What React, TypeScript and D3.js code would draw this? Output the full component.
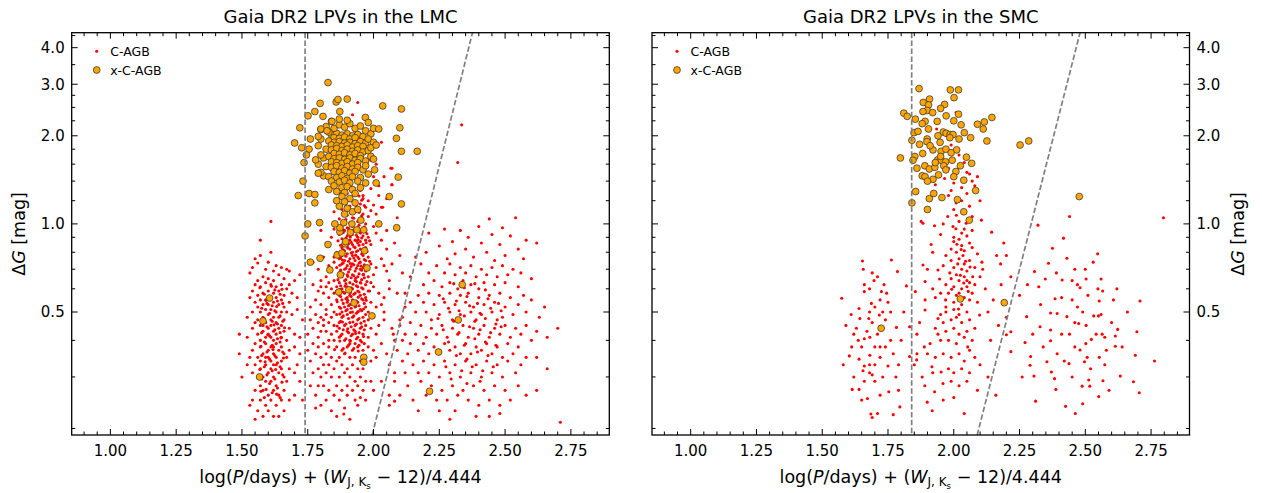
import React from "react";
import * as d3 from "d3";

// ---------------- DATA ----------------
// x = log(P/days) + (W_JKs - 12)/4.444 ; y = ΔG [mag]

const lmcRedShortP: [number, number][] = [
  [1.61,1.02],[1.57,0.88],[1.61,0.80],[1.57,0.78],[1.55,0.76],[1.54,0.71],[1.56,0.735],[1.67,0.70],[1.68,0.69],[1.72,0.67],[1.60,0.74],[1.63,0.72],[1.59,0.70],[1.62,0.69],[1.65,0.71],[1.58,0.66],[1.64,0.67],[1.60,0.65],[1.53,0.68],[1.66,0.65],[1.70,0.64],[1.56,0.64],
  [1.55,0.62],[1.57,0.61],[1.59,0.63],[1.61,0.62],[1.63,0.61],[1.65,0.62],[1.67,0.60],[1.54,0.59],[1.58,0.58],[1.60,0.59],[1.62,0.58],[1.64,0.59],[1.66,0.57],[1.69,0.58],[1.56,0.57],[1.61,0.56],[1.63,0.56],[1.59,0.55],[1.65,0.55],[1.57,0.55],[1.71,0.56],[1.53,0.56],[1.68,0.62],[1.62,0.64],
  [1.55,0.54],[1.58,0.53],[1.60,0.53],[1.62,0.54],[1.64,0.53],[1.66,0.52],[1.68,0.54],[1.56,0.52],[1.59,0.51],[1.61,0.51],[1.63,0.50],[1.65,0.50],[1.57,0.50],[1.54,0.50],[1.60,0.49],[1.62,0.48],[1.64,0.48],[1.58,0.48],[1.66,0.47],[1.69,0.49],[1.52,0.48],[1.61,0.47],[1.67,0.50],[1.71,0.51],[1.56,0.47],
  [1.55,0.46],[1.57,0.45],[1.59,0.46],[1.61,0.45],[1.63,0.46],[1.65,0.45],[1.60,0.44],[1.62,0.43],[1.64,0.44],[1.58,0.43],[1.56,0.42],[1.66,0.43],[1.68,0.44],[1.59,0.41],[1.61,0.41],[1.63,0.42],[1.54,0.44],[1.57,0.40],[1.65,0.41],[1.67,0.40],[1.62,0.40],[1.70,0.42],[1.49,0.42],[1.52,0.41],[1.60,0.42],[1.58,0.45],
  [1.55,0.39],[1.57,0.38],[1.59,0.39],[1.61,0.38],[1.63,0.39],[1.65,0.38],[1.60,0.37],[1.62,0.36],[1.64,0.37],[1.58,0.36],[1.56,0.35],[1.66,0.36],[1.68,0.37],[1.59,0.35],[1.61,0.34],[1.63,0.35],[1.54,0.37],[1.57,0.34],[1.65,0.34],[1.67,0.35],[1.70,0.38],[1.53,0.35],[1.62,0.38],[1.60,0.35],[1.72,0.36],[1.49,0.36],
  [1.55,0.33],[1.57,0.32],[1.59,0.33],[1.61,0.32],[1.63,0.33],[1.65,0.32],[1.60,0.31],[1.62,0.30],[1.64,0.31],[1.58,0.30],[1.56,0.30],[1.66,0.30],[1.68,0.32],[1.59,0.29],[1.61,0.29],[1.63,0.28],[1.54,0.31],[1.57,0.28],[1.67,0.29],[1.52,0.33],[1.70,0.31],[1.62,0.33],[1.50,0.30],[1.72,0.29],
  [1.55,0.27],[1.58,0.27],[1.60,0.26],[1.62,0.27],[1.64,0.26],[1.66,0.27],[1.57,0.25],[1.59,0.24],[1.61,0.25],[1.63,0.24],[1.65,0.25],[1.56,0.23],[1.60,0.23],[1.54,0.25],[1.68,0.25],[1.58,0.22],[1.62,0.22],[1.55,0.215],[1.66,0.23],[1.53,0.24],[1.70,0.26],[1.64,0.22],
  [1.585,0.575],[1.605,0.565],[1.625,0.595],[1.645,0.575],[1.595,0.535],[1.615,0.525],[1.635,0.545],[1.655,0.535],[1.575,0.515],[1.605,0.495],[1.625,0.505],[1.645,0.485],[1.585,0.475],[1.615,0.465],[1.635,0.455],[1.655,0.465],[1.595,0.445],[1.625,0.435],[1.645,0.425],[1.575,0.425],[1.605,0.415],[1.635,0.405],[1.585,0.395],[1.615,0.385],[1.645,0.395],[1.595,0.365],[1.625,0.355],[1.655,0.365],[1.575,0.355],[1.605,0.345],[1.635,0.335],[1.585,0.325],[1.615,0.315],[1.645,0.325],[1.595,0.305],[1.625,0.295],[1.655,0.305],[1.575,0.295],[1.605,0.285],[1.635,0.275],[1.615,0.265],[1.585,0.255],[1.645,0.255],
  [1.72,0.41],[1.73,0.47],[1.71,0.33],[1.73,0.25],
  [1.568,0.605],[1.612,0.612],[1.652,0.598],[1.592,0.548],[1.632,0.522],[1.578,0.462],[1.622,0.452],[1.662,0.442],[1.598,0.418],[1.648,0.408],[1.572,0.382],[1.618,0.372],[1.658,0.348],[1.588,0.338],[1.628,0.318],[1.568,0.318],[1.652,0.288],[1.592,0.272],[1.632,0.262],[1.572,0.268]
];

const lmcRedCore: [number, number][] = [
  [1.93,1.95],[1.95,1.85],[1.97,1.75],[1.99,1.65],[2.01,1.6],[1.96,1.55],[1.98,1.5],[2.00,1.45],[1.94,1.42],[1.97,1.38],[2.02,1.35],[1.92,1.32],[1.95,1.30],[1.99,1.32],[2.07,1.55],[2.07,1.36],[2.04,1.45],[1.90,1.40],[1.88,1.50],[1.86,1.62],[1.91,1.70],[1.89,1.80],[1.94,2.60],[1.92,2.36],[1.97,2.05],[2.03,1.9],[1.96,1.25],[2.035,1.14],
  [1.87,1.28],[1.90,1.27],[1.93,1.26],[1.96,1.22],[1.98,1.20],[1.92,1.20],[1.89,1.18],[1.95,1.17],[1.91,1.15],[1.94,1.13],[1.97,1.14],[2.00,1.16],[1.88,1.12],[1.93,1.10],[1.96,1.08],[1.90,1.07],[1.92,1.05],[1.95,1.04],[1.98,1.06],[1.87,1.04],[2.03,1.14],[2.01,1.08],[1.94,1.02],[1.91,1.01],[1.89,1.00],[1.97,1.00],[2.05,1.22],[1.85,1.10],[1.99,1.11],
  [1.895,1.035],[1.925,1.045],[1.955,1.065],[1.915,1.085],[1.945,1.095],[1.905,1.125],[1.935,1.145],[1.965,1.155],[1.925,1.185],[1.955,1.205],[1.945,1.245],[1.915,1.235],
  [1.88,0.98],[1.90,0.97],[1.92,0.98],[1.94,0.97],[1.96,0.96],[1.89,0.95],[1.91,0.94],[1.93,0.95],[1.95,0.93],[1.97,0.94],[1.87,0.92],[1.90,0.91],[1.92,0.92],[1.94,0.90],[1.96,0.91],[1.98,0.90],[1.88,0.89],[1.91,0.88],[1.93,0.88],[1.95,0.87],[1.89,0.86],[1.92,0.85],[1.94,0.86],[1.96,0.85],[1.97,0.88],[1.90,0.84],[1.93,0.83],[1.95,0.82],[1.88,0.83],[1.91,0.82],[1.97,0.83],[1.89,0.81],[1.92,0.80],[1.94,0.81],[1.86,0.80],[1.99,0.85],[2.01,0.93],[2.03,0.88],[1.84,0.90],[1.82,0.86],[2.05,0.82],[1.80,0.95],[2.00,0.98],[1.85,0.96],
  [1.86,0.79],[1.88,0.78],[1.90,0.79],[1.92,0.78],[1.94,0.77],[1.96,0.78],[1.98,0.77],[1.87,0.76],[1.89,0.75],[1.91,0.76],[1.93,0.75],[1.95,0.74],[1.97,0.75],[1.85,0.74],[1.88,0.73],[1.90,0.72],[1.92,0.73],[1.94,0.72],[1.96,0.71],[1.99,0.73],[1.86,0.71],[1.89,0.70],[1.91,0.70],[1.93,0.69],[1.95,0.70],[1.97,0.69],[1.84,0.69],[1.87,0.68],[1.90,0.67],[1.92,0.67],[1.94,0.66],[1.96,0.67],[1.98,0.66],[1.88,0.66],[1.83,0.72],[1.81,0.77],[1.79,0.70],[2.01,0.71],[2.03,0.76],[2.00,0.67],[2.05,0.69],[1.82,0.66],[1.77,0.74],[2.07,0.73],[1.85,0.77],
  [1.80,0.64],[1.83,0.63],[1.85,0.64],[1.87,0.63],[1.89,0.64],[1.91,0.63],[1.93,0.64],[1.95,0.63],[1.97,0.62],[1.99,0.63],[1.82,0.61],[1.84,0.60],[1.86,0.61],[1.88,0.60],[1.90,0.61],[1.92,0.60],[1.94,0.61],[1.96,0.60],[1.98,0.59],[2.00,0.61],[1.79,0.59],[1.81,0.58],[1.85,0.58],[1.87,0.57],[1.89,0.58],[1.91,0.57],[1.93,0.58],[1.95,0.57],[1.97,0.56],[2.02,0.58],[1.83,0.56],[1.86,0.55],[1.88,0.55],[1.90,0.54],[1.92,0.55],[1.94,0.54],[1.96,0.55],[1.99,0.54],[1.78,0.55],[1.80,0.53],[1.84,0.53],[1.87,0.52],[1.89,0.52],[1.91,0.53],[1.93,0.52],[1.95,0.51],[1.97,0.52],[1.82,0.51],[1.85,0.50],[1.88,0.50],[1.90,0.51],[1.92,0.50],[1.94,0.50],[1.98,0.50],[2.01,0.52],[2.04,0.56],[1.77,0.62],[1.76,0.52],[2.06,0.60],[1.86,0.59],[1.94,0.59],[1.90,0.56],[1.80,0.61],[2.03,0.53],
  [1.78,0.49],[1.80,0.48],[1.82,0.49],[1.84,0.48],[1.86,0.49],[1.88,0.48],[1.90,0.49],[1.92,0.48],[1.94,0.47],[1.96,0.48],[1.98,0.47],[2.00,0.48],[1.79,0.46],[1.81,0.45],[1.83,0.46],[1.85,0.45],[1.87,0.46],[1.89,0.45],[1.91,0.46],[1.93,0.45],[1.95,0.44],[1.97,0.45],[1.99,0.44],[1.77,0.44],[1.80,0.43],[1.82,0.43],[1.84,0.42],[1.86,0.43],[1.88,0.42],[1.90,0.43],[1.92,0.42],[1.94,0.41],[1.96,0.42],[1.98,0.41],[2.02,0.45],[1.79,0.41],[1.83,0.40],[1.85,0.40],[1.87,0.41],[1.89,0.40],[1.91,0.40],[1.93,0.39],[1.95,0.40],[2.01,0.42],[1.76,0.47],[2.04,0.47],[1.81,0.47],[1.87,0.44],[1.93,0.43],[1.97,0.49],[1.75,0.42],
  [1.77,0.39],[1.79,0.38],[1.81,0.39],[1.83,0.38],[1.86,0.38],[1.88,0.37],[1.90,0.38],[1.92,0.37],[1.94,0.38],[1.96,0.37],[1.98,0.38],[2.00,0.37],[1.78,0.36],[1.80,0.35],[1.82,0.36],[1.84,0.35],[1.87,0.35],[1.89,0.36],[1.91,0.35],[1.93,0.35],[1.95,0.34],[1.97,0.35],[1.99,0.34],[1.76,0.34],[1.81,0.33],[1.83,0.33],[1.85,0.32],[1.88,0.33],[1.90,0.32],[1.92,0.33],[1.94,0.32],[1.96,0.32],[1.79,0.32],[2.01,0.35],[2.03,0.39],[1.86,0.34],[1.91,0.39],[1.75,0.37],
  [1.77,0.31],[1.80,0.30],[1.82,0.31],[1.84,0.30],[1.87,0.30],[1.89,0.31],[1.91,0.30],[1.93,0.29],[1.95,0.30],[1.97,0.29],[1.79,0.28],[1.81,0.28],[1.83,0.27],[1.86,0.28],[1.88,0.27],[1.90,0.28],[1.92,0.27],[1.94,0.28],[1.96,0.27],[1.78,0.26],[1.82,0.25],[1.85,0.26],[1.87,0.25],[1.90,0.26],[1.93,0.25],[1.99,0.29],[2.00,0.27],[1.76,0.28],[1.95,0.255],
  [1.80,0.24],[1.84,0.23],[1.89,0.235],[1.94,0.24],[1.78,0.235],[1.91,0.215],[1.86,0.22],[1.97,0.25],[1.887,0.224],
  [1.875,0.985],[1.905,0.965],[1.925,0.955],[1.945,0.99],[1.965,0.975],[1.885,0.935],[1.915,0.925],[1.935,0.915],[1.955,0.945],[1.975,0.925],
  [1.865,0.875],[1.895,0.895],[1.915,0.865],[1.935,0.875],[1.955,0.895],[1.985,0.875],[1.875,0.845],[1.905,0.855],[1.925,0.835],[1.945,0.845],[1.965,0.825],
  [1.885,0.815],[1.915,0.795],[1.935,0.805],[1.955,0.79],[1.975,0.805],[1.895,0.775],[1.925,0.765],[1.945,0.76],[1.965,0.755],[1.875,0.765],
  [1.885,0.735],[1.905,0.745],[1.925,0.725],[1.945,0.735],[1.965,0.725],[1.985,0.745],[1.895,0.705],[1.915,0.715],[1.935,0.705],[1.955,0.695],[1.875,0.695],
  [1.885,0.675],[1.905,0.685],[1.925,0.665],[1.945,0.675],[1.965,0.655],[1.895,0.645],[1.915,0.655],[1.935,0.635],[1.955,0.645],[1.975,0.635],[1.865,0.645],
  [1.875,0.615],[1.895,0.625],[1.915,0.605],[1.935,0.615],[1.955,0.605],[1.885,0.585],[1.905,0.595],[1.925,0.575],[1.945,0.585],[1.965,0.575],[1.985,0.59],
  [1.875,0.565],[1.895,0.555],[1.915,0.565],[1.935,0.545],[1.955,0.555],[1.885,0.535],[1.905,0.525],[1.925,0.535],[1.945,0.525],[1.965,0.535],
  [1.875,0.515],[1.895,0.505],[1.915,0.515],[1.935,0.495],[1.955,0.505],[1.885,0.485],[1.905,0.475],[1.925,0.485],[1.945,0.475],[1.965,0.465],
  [1.875,0.465],[1.895,0.455],[1.915,0.445],[1.935,0.455],[1.955,0.445],[1.885,0.435],[1.905,0.425],[1.925,0.435],[1.945,0.425],[1.965,0.435],
  [1.875,0.415],[1.895,0.405],[1.915,0.415],[1.935,0.405],[1.955,0.395],[1.905,0.385],[1.925,0.375],[1.945,0.385],[1.885,0.375],[1.965,0.39],
  [1.882,0.958],[1.912,0.902],[1.942,0.882],[1.972,0.862],[1.902,0.828],[1.932,0.782],[1.962,0.798],[1.882,0.752],[1.912,0.732],[1.952,0.718],[1.872,0.722],[1.902,0.662],[1.932,0.652],[1.962,0.672],[1.892,0.612],[1.922,0.622],[1.952,0.628],[1.872,0.598],[1.912,0.582],[1.942,0.562],[1.972,0.548],[1.862,0.542],[1.902,0.548],[1.932,0.522],[1.962,0.512],[1.872,0.492],[1.912,0.498],[1.942,0.502],[1.882,0.462],[1.922,0.462],[1.952,0.458],[1.862,0.448],[1.902,0.438],[1.932,0.422],[1.962,0.412],[1.872,0.398],[1.912,0.398],[1.942,0.368],[1.892,0.362],[1.852,0.372],
  [2.05,0.95],[2.08,0.86],[2.10,0.78],[2.06,0.64],[2.09,0.58],[2.04,0.50],[2.07,0.44],[2.11,0.40],[2.05,0.36],[2.08,0.31],[2.03,0.29],[2.06,0.26],[2.10,0.47],[2.12,0.52],[2.11,0.68],[2.04,0.72],[2.09,1.05],[2.02,1.25],[2.075,0.42],[2.08,0.248],[2.066,1.55],[2.07,1.36]
];

const lmcRedLongP: [number, number][] = [
  [2.44,1.04],[2.54,1.05],[2.40,0.98],[2.49,0.97],[2.33,0.95],[2.27,0.96],[2.21,0.93],[2.36,0.90],[2.45,0.92],[2.52,0.91],[2.58,0.88],[2.30,0.87],[2.41,0.86],[2.48,0.85],[2.25,0.84],[2.35,0.82],[2.55,0.82],[2.20,0.80],[2.31,0.79],[2.43,0.80],[2.50,0.78],[2.38,0.77],[2.28,0.76],[2.46,0.75],[2.57,0.76],[2.16,0.77],[2.62,0.86],
  [2.18,0.73],[2.24,0.72],[2.29,0.73],[2.33,0.71],[2.37,0.72],[2.41,0.70],[2.45,0.71],[2.49,0.72],[2.53,0.70],[2.21,0.68],[2.27,0.68],[2.31,0.67],[2.35,0.68],[2.39,0.66],[2.43,0.67],[2.47,0.66],[2.51,0.67],[2.56,0.68],[2.14,0.66],[2.23,0.64],[2.29,0.63],[2.34,0.64],[2.37,0.62],[2.42,0.63],[2.46,0.62],[2.50,0.63],[2.55,0.61],[2.19,0.62],[2.26,0.61],[2.60,0.65],[2.40,0.60],[2.32,0.60],
  [2.12,0.58],[2.17,0.57],[2.21,0.58],[2.25,0.57],[2.29,0.58],[2.33,0.57],[2.36,0.58],[2.40,0.56],[2.44,0.57],[2.48,0.58],[2.52,0.56],[2.57,0.57],[2.14,0.54],[2.19,0.54],[2.23,0.53],[2.27,0.54],[2.31,0.53],[2.35,0.54],[2.38,0.52],[2.42,0.53],[2.46,0.54],[2.50,0.52],[2.55,0.53],[2.60,0.55],[2.16,0.50],[2.20,0.50],[2.25,0.49],[2.29,0.50],[2.33,0.49],[2.37,0.50],[2.41,0.49],[2.45,0.50],[2.49,0.48],[2.53,0.49],[2.58,0.50],[2.11,0.48],[2.22,0.47],[2.30,0.47],[2.39,0.47],[2.47,0.47],[2.63,0.48],[2.65,0.52],
  [2.10,0.45],[2.14,0.46],[2.18,0.45],[2.22,0.44],[2.26,0.45],[2.30,0.44],[2.34,0.45],[2.38,0.44],[2.42,0.45],[2.46,0.44],[2.50,0.45],[2.54,0.44],[2.58,0.45],[2.12,0.42],[2.16,0.42],[2.20,0.41],[2.24,0.42],[2.28,0.41],[2.32,0.42],[2.36,0.41],[2.40,0.42],[2.44,0.41],[2.48,0.42],[2.52,0.41],[2.56,0.42],[2.62,0.43],[2.08,0.40],[2.14,0.39],[2.19,0.39],[2.23,0.38],[2.27,0.39],[2.31,0.38],[2.35,0.39],[2.39,0.38],[2.43,0.39],[2.47,0.38],[2.51,0.39],[2.55,0.38],[2.60,0.40],[2.70,0.44],[2.66,0.41],
  [2.09,0.37],[2.13,0.36],[2.17,0.37],[2.21,0.36],[2.25,0.36],[2.29,0.37],[2.33,0.36],[2.37,0.36],[2.41,0.37],[2.45,0.36],[2.49,0.35],[2.53,0.36],[2.58,0.35],[2.11,0.34],[2.15,0.33],[2.19,0.34],[2.23,0.33],[2.27,0.34],[2.31,0.33],[2.35,0.34],[2.39,0.33],[2.43,0.34],[2.47,0.33],[2.51,0.34],[2.56,0.33],[2.62,0.35],[2.06,0.33],[2.12,0.31],[2.17,0.31],[2.21,0.31],[2.25,0.30],[2.29,0.31],[2.33,0.30],[2.37,0.31],[2.41,0.30],[2.45,0.31],[2.49,0.30],[2.54,0.31],[2.66,0.32],
  [2.08,0.29],[2.13,0.28],[2.18,0.29],[2.22,0.28],[2.26,0.27],[2.30,0.28],[2.34,0.27],[2.38,0.28],[2.42,0.27],[2.46,0.28],[2.50,0.27],[2.55,0.28],[2.10,0.26],[2.15,0.25],[2.20,0.26],[2.24,0.25],[2.28,0.25],[2.32,0.26],[2.36,0.25],[2.40,0.24],[2.44,0.25],[2.48,0.24],[2.52,0.25],[2.58,0.26],[2.17,0.23],[2.25,0.23],[2.31,0.23],[2.39,0.22],[2.44,0.22],[2.29,0.215],[2.62,0.27],[2.71,0.21],[2.06,0.24],[2.48,0.225],
  [2.265,0.555],[2.315,0.545],[2.355,0.565],[2.395,0.535],[2.435,0.555],[2.475,0.535],[2.285,0.515],[2.325,0.505],[2.365,0.525],[2.405,0.495],[2.445,0.515],[2.485,0.505],[2.245,0.475],[2.305,0.465],[2.345,0.485],[2.385,0.465],[2.425,0.475],[2.465,0.455],[2.265,0.435],[2.325,0.425],[2.365,0.445],[2.405,0.435],[2.445,0.425],[2.485,0.445],[2.285,0.395],[2.345,0.385],[2.385,0.405],[2.425,0.395],[2.465,0.385],[2.255,0.365],[2.315,0.355],[2.355,0.345],[2.395,0.365],[2.435,0.355],[2.275,0.325],[2.335,0.315],[2.375,0.325],[2.415,0.315],[2.455,0.325],[2.295,0.295],[2.355,0.285],[2.405,0.29],[2.345,0.605],[2.385,0.625],[2.425,0.595],[2.305,0.625],
  [2.335,2.18],[2.32,1.62]
];

const lmcOrange: [number, number][] = [
  [1.84,2.02],[1.86,2.04],[1.88,2.01],[1.90,2.03],[1.92,2.0],[1.94,2.02],[1.96,1.99],[1.85,1.97],[1.87,1.96],[1.89,1.98],[1.91,1.95],[1.93,1.97],
  [1.83,1.92],[1.85,1.90],[1.87,1.91],[1.89,1.89],[1.91,1.90],[1.93,1.88],[1.95,1.91],[1.97,1.89],[1.84,1.86],[1.86,1.85],[1.88,1.84],[1.90,1.86],[1.92,1.83],[1.94,1.85],[1.96,1.84],
  [1.82,1.80],[1.84,1.79],[1.86,1.81],[1.88,1.78],[1.90,1.80],[1.92,1.77],[1.94,1.79],[1.96,1.76],[1.98,1.78],[1.85,1.74],[1.87,1.73],[1.89,1.75],[1.91,1.72],[1.93,1.74],[1.95,1.71],
  [1.81,1.68],[1.83,1.70],[1.85,1.67],[1.87,1.68],[1.89,1.66],[1.91,1.68],[1.93,1.65],[1.95,1.67],[1.97,1.64],[1.84,1.63],[1.86,1.62],[1.88,1.61],[1.90,1.63],[1.92,1.60],[1.94,1.62],
  [1.82,1.57],[1.84,1.56],[1.86,1.58],[1.88,1.55],[1.90,1.57],[1.92,1.54],[1.94,1.56],[1.96,1.53],[1.85,1.51],[1.87,1.50],[1.89,1.52],[1.91,1.49],[1.93,1.51],
  [1.81,1.46],[1.83,1.45],[1.86,1.44],[1.88,1.46],[1.90,1.43],[1.92,1.45],[1.95,1.44],[1.84,1.40],[1.87,1.39],[1.89,1.41],[1.91,1.38],[1.94,1.40],
  [1.85,1.35],[1.88,1.33],[1.90,1.34],[1.92,1.31],[1.86,1.29],[1.89,1.28],[1.93,1.27],[1.83,1.31],[1.95,1.33],
  [1.88,1.24],[1.91,1.22],[1.89,1.19],[1.93,1.18],[1.87,1.15],[1.90,1.13],[1.92,1.10],[1.89,1.08],[1.94,1.12],[1.86,1.20],
  [1.80,2.10],[1.82,2.15],[1.85,2.12],[1.87,2.18],[1.89,2.14],[1.91,2.20],[1.93,2.12],[1.95,2.16],[1.97,2.08],[1.84,2.24],[1.87,2.28],[1.90,2.26],[1.83,2.06],[1.99,2.03],[1.98,1.95],[2.00,1.90],[1.99,1.70],[1.99,1.82],[1.80,1.95],[1.79,1.85],[1.80,1.72],[1.79,1.60],[1.80,1.50],[1.97,1.58],[1.98,1.48],[1.97,1.38],
  [1.827,3.04],[1.797,2.58],[1.858,2.61],[1.865,2.66],[1.90,2.67],[2.035,2.53],[2.106,2.47],[1.751,2.34],[1.777,2.42],[1.808,2.33],[1.872,2.42],[1.969,2.31],[1.98,2.22],[1.72,2.13],[1.842,2.24],[1.80,2.11],[1.823,2.08],[2.00,2.12],[2.02,2.11],[2.10,2.13],[1.79,1.99],[1.76,1.95],[1.70,1.89],[1.727,1.82],[1.755,1.80],[2.087,1.96],[2.106,1.77],[2.166,1.77],[2.01,1.86],[1.745,1.72],[1.736,1.62],[1.78,1.655],[2.00,1.665],[2.004,1.53],[1.79,1.49],[1.732,1.40],[1.714,1.25],[1.755,1.27],[1.777,1.26],[2.01,1.38],[2.094,1.445],[2.06,1.24],[2.106,1.17],[1.777,1.18],[1.75,1.0],[1.795,1.01],[1.74,0.91],[2.088,0.97],[2.02,1.0],[1.827,0.85],[1.76,0.74],[1.797,0.763],
  [1.834,0.696],[1.868,0.585],[1.906,0.595],[1.926,0.537],[1.874,0.67],[1.994,0.485],[1.963,0.35],[1.963,0.337],[1.975,0.707],[1.966,0.81],[1.862,0.783],[1.88,0.795],[1.892,0.855],[1.894,0.87],[1.872,0.94],[1.872,0.97],[1.853,1.0],[1.887,1.01],[1.918,1.0],[1.952,1.03],[1.963,0.954],[1.937,0.954],[1.912,0.935],
  [1.605,0.558],[1.58,0.466],[1.567,0.30],[2.337,0.62],[2.322,0.47],[2.247,0.365],[2.213,0.268]
];

const smcRedShortP: [number, number][] = [
  [1.574,0.557],[1.653,0.747],[1.656,0.70],[1.697,0.64],[1.71,0.66],[1.763,0.753],[1.786,0.687],[1.82,0.614],[1.66,0.587],[1.68,0.60],[1.725,0.587],[1.745,0.58],[1.687,0.535],[1.70,0.52],[1.717,0.488],[1.73,0.50],[1.64,0.514],[1.76,0.50],[1.677,0.475],[1.643,0.475],[1.69,0.46],[1.74,0.47],[1.832,0.445],[1.782,0.443],[1.681,0.41],[1.637,0.40],[1.66,0.405],[1.70,0.38],[1.72,0.38],[1.612,0.38],[1.74,0.38],[1.76,0.40],[1.681,0.356],[1.603,0.354],[1.64,0.345],[1.66,0.327],[1.68,0.33],[1.70,0.33],[1.75,0.327],[1.68,0.31],[1.655,0.315],[1.69,0.305],[1.79,0.33],[1.832,0.352],[1.86,0.36],[1.85,0.33],[1.614,0.272],[1.64,0.272],[1.753,0.267],[1.79,0.27],[1.672,0.253],[1.795,0.237],[1.685,0.224],[1.71,0.225],[1.69,0.218],[1.77,0.223],[1.63,0.44],[1.61,0.49],[1.66,0.62],[1.69,0.68],[1.735,0.62],[1.72,0.55],[1.75,0.54],[1.67,0.43],[1.71,0.42],[1.73,0.44],[1.65,0.38],[1.72,0.35],[1.77,0.36],[1.70,0.29],[1.73,0.30],[1.62,0.30],[1.66,0.29],[1.58,0.33],[1.65,0.25],[1.72,0.26],[1.62,0.42],[1.68,0.50],[1.59,0.45],[1.80,0.40],[1.78,0.30],[1.81,0.50]
];

const smcRedCore: [number, number][] = [
  [2.009,2.40],[1.935,2.11],[1.99,1.86],[2.02,1.72],[2.04,1.62],[1.98,1.55],[2.05,1.50],[2.09,1.45],[2.07,1.40],[2.06,1.48],[1.93,1.36],[1.965,1.43],[2.00,1.38],[2.03,1.33],[2.08,1.35],[2.05,1.27],[1.99,1.30],[2.009,1.18],[2.03,1.20],[2.06,1.15],[2.04,1.10],[2.00,1.12],[1.977,1.06],[2.01,1.07],[2.047,1.005],[1.997,0.98],[2.02,1.02],[2.105,1.03],[1.876,1.02],[1.883,1.005],[1.927,0.985],[1.96,1.00],[2.07,1.06],[1.98,1.25],[2.10,1.20],
  [2.03,0.93],[2.02,0.886],[2.05,0.91],[2.07,0.95],[2.03,0.843],[2.06,0.86],[1.914,0.85],[2.00,0.87],[1.99,0.82],[2.01,0.80],[2.04,0.81],[2.07,0.83],[2.09,0.79],[2.107,0.74],[2.04,0.73],[2.06,0.75],[2.02,0.76],[1.99,0.75],[1.97,0.78],[2.00,0.71],[2.03,0.70],[2.05,0.69],[2.08,0.71],[1.94,0.696],[1.883,0.724],[1.90,0.70],[1.96,0.72],[2.01,0.67],[2.04,0.66],[2.072,0.66],[2.06,0.63],[2.02,0.64],[1.99,0.65],[1.97,0.62],[2.00,0.61],[2.03,0.60],[2.05,0.61],[2.08,0.62],[1.891,0.635],[1.946,0.648],[1.854,0.587],[1.92,0.60],[1.95,0.58],[1.98,0.58],[2.01,0.57],[2.04,0.56],[2.07,0.58],[1.969,0.55],[1.891,0.55],[1.93,0.56],[2.00,0.54],[2.03,0.53],[2.06,0.55],[2.09,0.54],[2.02,0.58],[2.05,0.64],[1.985,0.68],[2.015,0.73],[2.035,0.78],[2.0,0.90],[2.04,0.96],[1.95,0.92],[1.92,0.80],[2.10,0.66],[2.12,0.60],[2.11,0.70],
  [2.012,0.852],[2.045,0.745],[2.025,0.668],[2.055,0.588],[2.018,0.512],[2.038,0.628],[1.992,0.598],[2.062,0.712],[2.028,0.818],[2.008,0.962],
  [1.891,0.508],[1.94,0.475],[1.97,0.50],[2.00,0.51],[2.02,0.49],[2.05,0.50],[2.098,0.488],[1.96,0.46],[1.99,0.47],[2.03,0.46],[2.06,0.47],[1.93,0.44],[1.94,0.42],[1.97,0.43],[2.00,0.44],[2.02,0.42],[2.05,0.43],[2.08,0.44],[1.95,0.40],[1.98,0.40],[2.01,0.39],[2.053,0.38],[2.07,0.40],[1.888,0.38],[1.91,0.39],[1.859,0.343],[1.90,0.36],[1.93,0.35],[1.96,0.36],[1.99,0.35],[2.02,0.36],[2.04,0.34],[2.08,0.35],[1.917,0.325],[1.952,0.312],[1.98,0.32],[2.00,0.31],[2.03,0.32],[2.06,0.31],[2.10,0.33],[1.959,0.285],[1.99,0.29],[2.02,0.28],[2.05,0.29],[1.927,0.267],[1.89,0.28],[1.899,0.246],[1.96,0.25],[2.00,0.255],[2.04,0.225],[1.918,0.23],[1.88,0.30],[2.09,0.27],[1.97,0.52],[2.01,0.48],[1.95,0.49],[2.04,0.41],[1.92,0.31],[2.06,0.37],[1.87,0.46],[1.86,0.42],
  [2.144,0.937],[2.19,0.86],[2.163,0.78],[2.178,0.73],[2.20,0.78],[2.217,0.66],[2.20,0.48],[2.217,0.366],[2.20,0.418],[2.15,0.55],[2.17,0.45],[2.14,0.40],[2.13,0.30],[2.16,0.26],[2.18,0.62],[2.13,0.50]
];

const smcRedLongP: [number, number][] = [
  [2.547,0.79],[2.503,0.648],[2.56,0.648],[2.48,0.605],[2.548,0.60],[2.566,0.59],[2.607,0.55],[2.708,0.545],[2.553,0.545],[2.532,0.485],[2.55,0.485],[2.56,0.49],[2.475,0.457],[2.503,0.45],[2.541,0.42],[2.564,0.42],[2.574,0.41],[2.614,0.414],[2.623,0.436],[2.696,0.428],[2.523,0.403],[2.502,0.39],[2.614,0.382],[2.48,0.371],[2.497,0.338],[2.507,0.35],[2.553,0.35],[2.574,0.33],[2.69,0.356],[2.763,0.34],[2.633,0.302],[2.513,0.293],[2.567,0.291],[2.488,0.279],[2.517,0.279],[2.683,0.289],[2.705,0.265],[2.551,0.257],[2.49,0.243],[2.797,1.05],
  [2.44,1.06],[2.32,0.99],[2.417,0.894],[2.375,0.826],[2.36,0.734],[2.43,0.763],[2.307,0.687],[2.348,0.648],[2.323,0.61],[2.412,0.643],[2.385,0.555],[2.368,0.496],[2.393,0.494],[2.43,0.482],[2.277,0.482],[2.328,0.445],[2.368,0.434],[2.217,0.428],[2.271,0.393],[2.368,0.399],[2.393,0.36],[2.292,0.352],[2.354,0.338],[2.29,0.329],[2.371,0.312],[2.438,0.333],[2.383,0.296],[2.305,0.302],[2.388,0.272],[2.311,0.248],[2.425,0.238],[2.462,0.225],
  [2.46,0.70],[2.45,0.55],[2.47,0.52],[2.44,0.42],[2.46,0.38],[2.45,0.30],[2.47,0.62],[2.49,0.50],[2.46,0.46],[2.45,0.64],
  [2.25,0.57],[2.26,0.30],[2.33,0.53],[2.34,0.38],[2.41,0.56],[2.41,0.42],[2.30,0.42],[2.28,0.62],[2.39,0.68],[2.42,0.34],[2.51,0.57],[2.52,0.32],[2.58,0.37],[2.60,0.46],[2.64,0.38],[2.66,0.50],[2.59,0.27],[2.50,0.70],[2.53,0.74],[2.62,0.60]
];

const smcOrange: [number, number][] = [
  [1.868,2.90],[1.987,2.87],[2.018,2.87],[2.001,2.70],[1.884,2.60],[1.908,2.67],[1.904,2.55],[1.899,2.44],[1.883,2.42],[1.965,2.56],[1.81,2.39],[1.823,2.33],[1.854,2.28],[1.891,2.24],[1.937,2.24],[1.971,2.34],[2.018,2.37],[2.028,2.18],[2.145,2.31],[2.116,2.23],[2.09,2.19],[2.112,2.11],[2.126,1.92],[2.064,1.97],[2.252,1.86],[2.285,1.92],
  [1.849,2.05],[1.864,2.07],[1.904,2.11],[1.96,2.06],[1.971,2.04],[1.986,2.02],[1.997,2.02],[1.985,1.97],[1.899,1.95],[1.898,1.91],[1.841,1.93],[1.948,1.90],[1.882,1.74],[1.921,1.79],[1.952,1.77],[2.011,1.79],[2.048,1.69],[1.852,1.70],[1.797,1.68],[1.845,1.65],[1.939,1.655],[1.952,1.65],[1.969,1.63],[1.994,1.65],[2.068,1.61],[1.89,1.58],[1.907,1.54],[1.928,1.56],[1.962,1.58],[1.97,1.53],[2.008,1.51],[2.025,1.58],
  [1.88,1.46],[1.891,1.45],[1.921,1.42],[1.942,1.47],[2.038,1.41],[1.855,1.29],[1.907,1.22],[1.924,1.27],[1.955,1.23],[2.014,1.21],[2.083,1.30],[1.841,1.18],[1.90,1.12],[2.038,1.10],[2.059,1.03],
  [2.025,0.554],[2.192,0.538],[1.724,0.44],[2.477,1.24],
  [1.93,1.62],[1.95,1.70],[1.91,1.85],[1.97,1.80],[1.99,1.75],[2.02,1.95],[1.88,2.20],[1.86,1.55],[1.92,2.40],[2.00,2.25],[1.95,2.48],[2.04,2.05],[1.90,1.40],[2.00,1.45],[1.87,1.87],[1.94,2.00]
];

// dashed dividing lines [x, ΔG] end points
const lmcVertical = 1.74;
const lmcDiagonal: [number, number][] = [[1.995, 0.19], [2.376, 4.5]];
const smcVertical = 1.84;
const smcDiagonal: [number, number][] = [[2.089, 0.19], [2.48, 4.5]];

const xMajorTicks = [1.0, 1.25, 1.5, 1.75, 2.0, 2.25, 2.5, 2.75];
const yMajorTicks = [0.5, 1.0, 2.0, 3.0, 4.0];
const yMinorTicks = [0.2, 0.3, 0.4, 0.6, 0.7, 0.8, 0.9, 1.2, 1.4, 1.6, 1.8, 2.25, 2.5, 2.75, 3.5, 4.4];

const titles = ["Gaia DR2 LPVs in the LMC", "Gaia DR2 LPVs in the SMC"];
const legendLabels = ["C-AGB", "x-C-AGB"];

// ---------------- LAYOUT ----------------
const W = 1262;
const H = 493;
const FONT = "DejaVu Sans, sans-serif";
const TOP = 32.7;
const BOTTOM = 435;
const X_DOMAIN: [number, number] = [0.853, 2.896];
const Y_DOMAIN: [number, number] = [0.19, 4.5];
const RED = "#ff0000";
const ORANGE = "#ffa500";
const RED_R = 1.55;
const OR_R = 3.4;
const OR_EDGE = "#333333";

const xMinorTicks = d3
  .range(18, 58)
  .map((i) => i * 0.05)
  .filter((v) => Math.abs(v * 4 - Math.round(v * 4)) > 1e-6);

type PanelProps = {
  id: string;
  x0: number;
  x1: number;
  title: string;
  red: [number, number][];
  orange: [number, number][];
  vline: number;
  diag: [number, number][];
  side: "left" | "right";
};

function Panel({ id, x0, x1, title, red, orange, vline, diag, side }: PanelProps) {
  const x = d3.scaleLinear().domain(X_DOMAIN).range([x0, x1]);
  const y = d3.scaleLog().domain(Y_DOMAIN).range([BOTTOM, TOP]);
  const line = d3
    .line<[number, number]>()
    .x((d) => x(d[0]))
    .y((d) => y(d[1]));
  const fx = d3.format(".2f");
  const fy = d3.format(".1f");
  const cx = (x0 + x1) / 2;
  const MAJ = 6;
  const MIN = 3.5;
  const tickStyle = { stroke: "#000", strokeWidth: 1 };

  return (
    <g>
      <defs>
        <clipPath id={id}>
          <rect x={x0} y={TOP} width={x1 - x0} height={BOTTOM - TOP} />
        </clipPath>
      </defs>
      <g clipPath={`url(#${id})`}>
        {red.map((d, i) => (
          <circle key={"r" + i} cx={x(d[0])} cy={y(d[1])} r={RED_R} fill={RED} />
        ))}
        {orange.map((d, i) => (
          <circle
            key={"o" + i}
            cx={x(d[0])}
            cy={y(d[1])}
            r={OR_R}
            fill={ORANGE}
            stroke={OR_EDGE}
            strokeWidth={0.75}
          />
        ))}
        <line
          x1={x(vline)}
          x2={x(vline)}
          y1={TOP}
          y2={BOTTOM}
          stroke="#808080"
          strokeWidth={1.7}
          strokeDasharray="5.5,2.4"
        />
        <path
          d={line(diag) || ""}
          fill="none"
          stroke="#808080"
          strokeWidth={1.7}
          strokeDasharray="5.5,2.4"
        />
      </g>

      {/* ticks */}
      {xMajorTicks.map((t) => (
        <g key={"xm" + t}>
          <line x1={x(t)} x2={x(t)} y1={BOTTOM} y2={BOTTOM - MAJ} {...tickStyle} />
          <line x1={x(t)} x2={x(t)} y1={TOP} y2={TOP + MAJ} {...tickStyle} />
          <text
            x={x(t)}
            y={456}
            textAnchor="middle"
            fontFamily={FONT}
            fontSize={15}
            fill="#000"
          >
            {fx(t)}
          </text>
        </g>
      ))}
      {xMinorTicks.map((t) => (
        <g key={"xn" + t}>
          <line x1={x(t)} x2={x(t)} y1={BOTTOM} y2={BOTTOM - MIN} {...tickStyle} />
          <line x1={x(t)} x2={x(t)} y1={TOP} y2={TOP + MIN} {...tickStyle} />
        </g>
      ))}
      {yMajorTicks.map((t) => (
        <g key={"ym" + t}>
          <line x1={x0} x2={x0 + MAJ} y1={y(t)} y2={y(t)} {...tickStyle} />
          <line x1={x1} x2={x1 - MAJ} y1={y(t)} y2={y(t)} {...tickStyle} />
          <text
            x={side === "left" ? x0 - 7 : x1 + 7}
            y={y(t) + 5.4}
            textAnchor={side === "left" ? "end" : "start"}
            fontFamily={FONT}
            fontSize={15}
            fill="#000"
          >
            {fy(t)}
          </text>
        </g>
      ))}
      {yMinorTicks.map((t) => (
        <g key={"yn" + t}>
          <line x1={x0} x2={x0 + MIN} y1={y(t)} y2={y(t)} {...tickStyle} />
          <line x1={x1} x2={x1 - MIN} y1={y(t)} y2={y(t)} {...tickStyle} />
        </g>
      ))}

      {/* frame */}
      <rect
        x={x0}
        y={TOP}
        width={x1 - x0}
        height={BOTTOM - TOP}
        fill="none"
        stroke="#000"
        strokeWidth={1.3}
      />

      {/* title */}
      <text x={cx} y={23.3} textAnchor="middle" fontFamily={FONT} fontSize={18} fill="#000">
        {title}
      </text>

      {/* legend */}
      <circle cx={x0 + 25} cy={51.3} r={RED_R} fill={RED} />
      <circle cx={x0 + 25} cy={70} r={OR_R} fill={ORANGE} stroke={OR_EDGE} strokeWidth={0.75} />
      <text x={x0 + 38.5} y={55.8} fontFamily={FONT} fontSize={12.5} fill="#000">
        {legendLabels[0]}
      </text>
      <text x={x0 + 38.5} y={74.5} fontFamily={FONT} fontSize={12.5} fill="#000">
        {legendLabels[1]}
      </text>

      {/* x label */}
      <text x={cx} y={482.7} textAnchor="middle" fontFamily={FONT} fontSize={17.5} fill="#000">
        <tspan>{"log("}</tspan>
        <tspan fontStyle="italic">{"P"}</tspan>
        <tspan>{"/days) + ("}</tspan>
        <tspan fontStyle="italic">{"W"}</tspan>
        <tspan fontSize={12} dy={3.6}>{"J, K"}</tspan>
        <tspan fontSize={8.6} dy={2.2}>{"s"}</tspan>
        <tspan fontSize={17.5} dy={-5.8}>{" \u2212 12)/4.444"}</tspan>
      </text>

      {/* y label */}
      <text
        transform={`translate(${side === "left" ? 24.5 : 1244},234) rotate(-90)`}
        textAnchor="middle"
        fontFamily={FONT}
        fontSize={17.5}
        fill="#000"
      >
        <tspan>{"\u0394"}</tspan>
        <tspan fontStyle="italic">{"G"}</tspan>
        <tspan>{" [mag]"}</tspan>
      </text>
    </g>
  );
}

export default function App() {
  const lmcRed = [...lmcRedShortP, ...lmcRedCore, ...lmcRedLongP];
  const smcRed = [...smcRedShortP, ...smcRedCore, ...smcRedLongP];
  return (
    <svg
      width={W}
      height={H}
      viewBox={`0 0 ${W} ${H}`}
      style={{ position: "absolute", left: 0, top: 0, background: "#fff" }}
    >
      <rect x={0} y={0} width={W} height={H} fill="#fff" />
      <Panel
        id="clipL"
        x0={71.7}
        x1={609.3}
        title={titles[0]}
        red={lmcRed}
        orange={lmcOrange}
        vline={lmcVertical}
        diag={lmcDiagonal}
        side="left"
      />
      <Panel
        id="clipR"
        x0={652}
        x1={1189.5}
        title={titles[1]}
        red={smcRed}
        orange={smcOrange}
        vline={smcVertical}
        diag={smcDiagonal}
        side="right"
      />
    </svg>
  );
}
